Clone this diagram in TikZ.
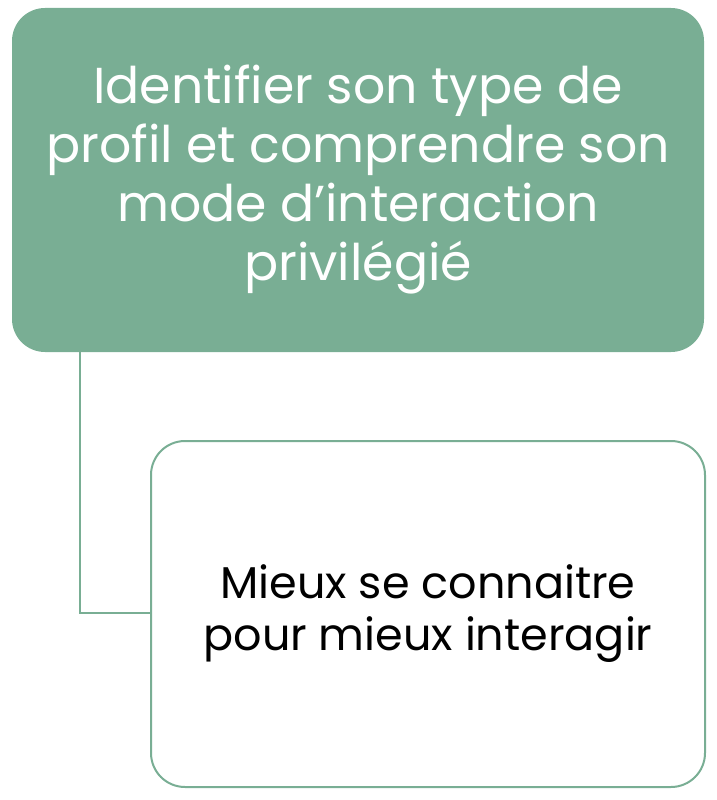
\documentclass[tikz,border=0pt]{standalone}
\usepackage{fontspec}
\setmainfont{Poppins}
\definecolor{sage}{HTML}{79AE94}
\begin{document}
\begin{tikzpicture}[x=1pt,y=-1pt,
  topbox/.style={fill=sage,draw=none,rounded corners=33pt,minimum width=692pt,minimum height=344pt,inner sep=0pt,text=white,align=center,font=\fontsize{50.5}{59}\selectfont},
  subbox/.style={fill=white,draw=sage,line width=2pt,rounded corners=34pt,minimum width=554pt,minimum height=346pt,inner sep=0pt,text=black,align=center,font=\fontsize{44.5}{52}\selectfont},
  link/.style={draw=sage,line width=2pt}]
\useasboundingbox (0,0) rectangle (716,800);
\node[topbox] (top) at (358,180) {Identifier son type de\\profil et comprendre son\\mode d’interaction\\privilégié};
\node[subbox] (sub) at (428,614) {Mieux se connaitre\\pour mieux interagir};
\coordinate (bend) at (80,613);
\draw[link] (top.south -| bend) -- (bend) -- (sub.west |- bend);
\end{tikzpicture}
\end{document}
